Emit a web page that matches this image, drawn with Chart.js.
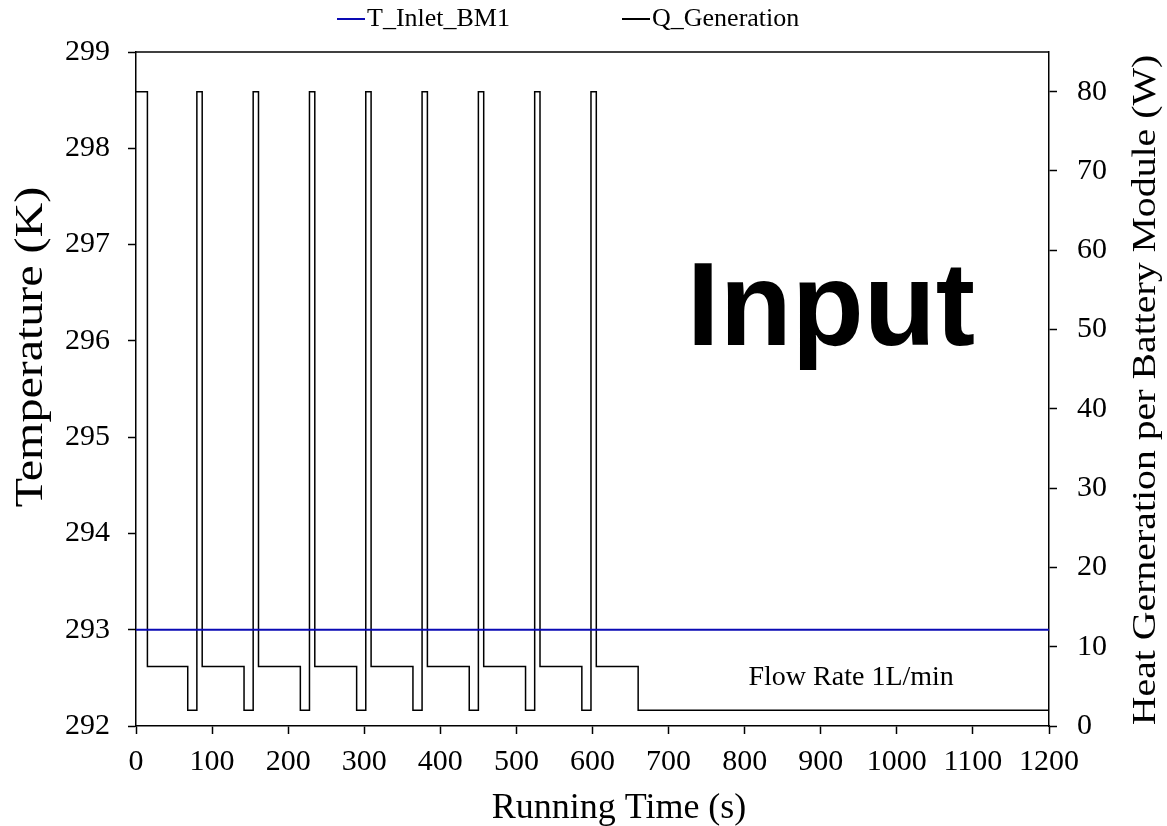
<!DOCTYPE html>
<html>
<head>
<meta charset="utf-8">
<script src="https://cdn.jsdelivr.net/npm/chart.js@4.4.1/dist/chart.umd.min.js"></script>
<style>
  html, body { margin: 0; padding: 0; background: #fff; }
  canvas { display: block; }
</style>
</head>
<body>
<canvas id="canvas" width="1167" height="826"></canvas>
<script>
// time axis ticks (s)
var timeTicks = [0, 100, 200, 300, 400, 500, 600, 700, 800, 900, 1000, 1100, 1200];

// T_Inlet_BM1 (K)
var inletTimes = [0, 1200];
var inletTemps = [293, 293];

// Q_Generation (W), value holds until next switch time
var qTimes = [0, 15, 68, 80, 87, 142, 154, 161, 216, 228, 235, 290, 302, 309, 364,
              376, 383, 438, 450, 457, 512, 524, 531, 586, 598, 605, 660, 1200];
var qValues = [80, 7.5, 2, 80, 7.5, 2, 80, 7.5, 2, 80, 7.5, 2, 80, 7.5, 2,
               80, 7.5, 2, 80, 7.5, 2, 80, 7.5, 2, 80, 7.5, 2, 2];

var serif = "'Times New Roman', 'Liberation Serif', serif";
var blue = '#0a0ab4';

function toPoints(xs, ys) {
    return xs.map(function (x, i) { return { x: x, y: ys[i] }; });
}

function plainLabel(value) {
    return String(value);
}

// legend, titles, labels and top frame
var decorations = {
    id: 'decorations',
    afterDraw: function (chart) {
        var ctx = chart.ctx;
        var area = chart.chartArea;
        var xs = chart.scales.x, yT = chart.scales.yT;
        ctx.save();

        // top frame
        ctx.strokeStyle = '#000';
        ctx.lineWidth = 1.5;
        ctx.beginPath();
        ctx.moveTo(area.left, area.top);
        ctx.lineTo(area.right, area.top);
        ctx.stroke();

        // legend
        var legendX = [337, 622];
        ctx.font = '26px ' + serif;
        ctx.textBaseline = 'alphabetic';
        ctx.textAlign = 'left';
        chart.data.datasets.forEach(function (ds, i) {
            ctx.strokeStyle = ds.borderColor;
            ctx.lineWidth = 2;
            ctx.beginPath();
            ctx.moveTo(legendX[i], 19);
            ctx.lineTo(legendX[i] + 28, 19);
            ctx.stroke();
            ctx.fillStyle = '#000';
            ctx.fillText(ds.label, legendX[i] + 30, 26);
        });

        // axis titles
        ctx.fillStyle = '#000';
        ctx.textAlign = 'center';
        ctx.font = '36px ' + serif;
        ctx.fillText('Running Time (s)', 619, 818);

        ctx.save();
        ctx.translate(42, 347);
        ctx.rotate(-Math.PI / 2);
        ctx.scale(1.2, 1);
        ctx.font = '40px ' + serif;
        ctx.fillText('Temperature (K)', 0, 0);
        ctx.restore();

        ctx.save();
        ctx.translate(1155, 390);
        ctx.rotate(-Math.PI / 2);
        ctx.scale(1.17, 1);
        ctx.font = '34px ' + serif;
        ctx.fillText('Heat Gerneration per Battery Module (W)', 0, 0);
        ctx.restore();

        // annotations
        ctx.textAlign = 'left';
        ctx.font = 'bold 118px "Liberation Sans", Arial, sans-serif';
        ctx.fillText('Input', xs.getPixelForValue(724), yT.getPixelForValue(295.96));

        ctx.textAlign = 'center';
        ctx.font = '28px ' + serif;
        ctx.fillText('Flow Rate 1L/min', xs.getPixelForValue(940), yT.getPixelForValue(292.43));

        ctx.restore();
    }
};

var axisGrid = {
    drawOnChartArea: false,
    drawTicks: true,
    tickLength: 8,
    tickWidth: 1.5,
    color: '#000'
};
var axisBorder = { display: true, color: '#000', width: 1.5 };

var config = {
    type: 'line',
    data: {
        datasets: [
            {
                label: 'T_Inlet_BM1',
                data: toPoints(inletTimes, inletTemps),
                yAxisID: 'yT',
                borderColor: blue,
                borderWidth: 2,
                pointRadius: 0,
                fill: false,
            },
            {
                label: 'Q_Generation',
                data: toPoints(qTimes, qValues),
                yAxisID: 'yQ',
                borderColor: '#000',
                borderWidth: 1.5,
                pointRadius: 0,
                stepped: true,
                fill: false,
            }
        ]
    },
    options: {
        responsive: false,
        animation: false,
        layout: { padding: { top: 52, left: 0, right: 0, bottom: 0 } },
        plugins: {
            legend: { display: false },
            tooltip: { enabled: false },
        },
        scales: {
            x: {
                type: 'linear',
                min: 0,
                max: 1200,
                afterBuildTicks: function (scale) {
                    scale.ticks = timeTicks.map(function (v) { return { value: v }; });
                },
                afterFit: function (scale) { scale.height = 100; },
                grid: axisGrid,
                border: axisBorder,
                ticks: {
                    color: '#000',
                    padding: 10,
                    maxRotation: 0,
                    autoSkip: false,
                    callback: plainLabel,
                    font: { family: serif, size: 30 },
                },
            },
            yT: {
                position: 'left',
                min: 292,
                max: 299,
                afterFit: function (scale) { scale.width = 136; },
                grid: axisGrid,
                border: axisBorder,
                ticks: {
                    stepSize: 1,
                    color: '#000',
                    padding: 18,
                    callback: plainLabel,
                    font: { family: serif, size: 30 },
                },
            },
            yQ: {
                position: 'right',
                min: 0,
                max: 85,
                afterFit: function (scale) { scale.width = 118; },
                grid: axisGrid,
                border: axisBorder,
                ticks: {
                    stepSize: 10,
                    includeBounds: false,
                    color: '#000',
                    padding: 20,
                    callback: plainLabel,
                    font: { family: serif, size: 30 },
                },
            }
        }
    },
    plugins: [decorations],
};

window.chart = new Chart(document.getElementById('canvas'), config);
</script>
</body>
</html>
